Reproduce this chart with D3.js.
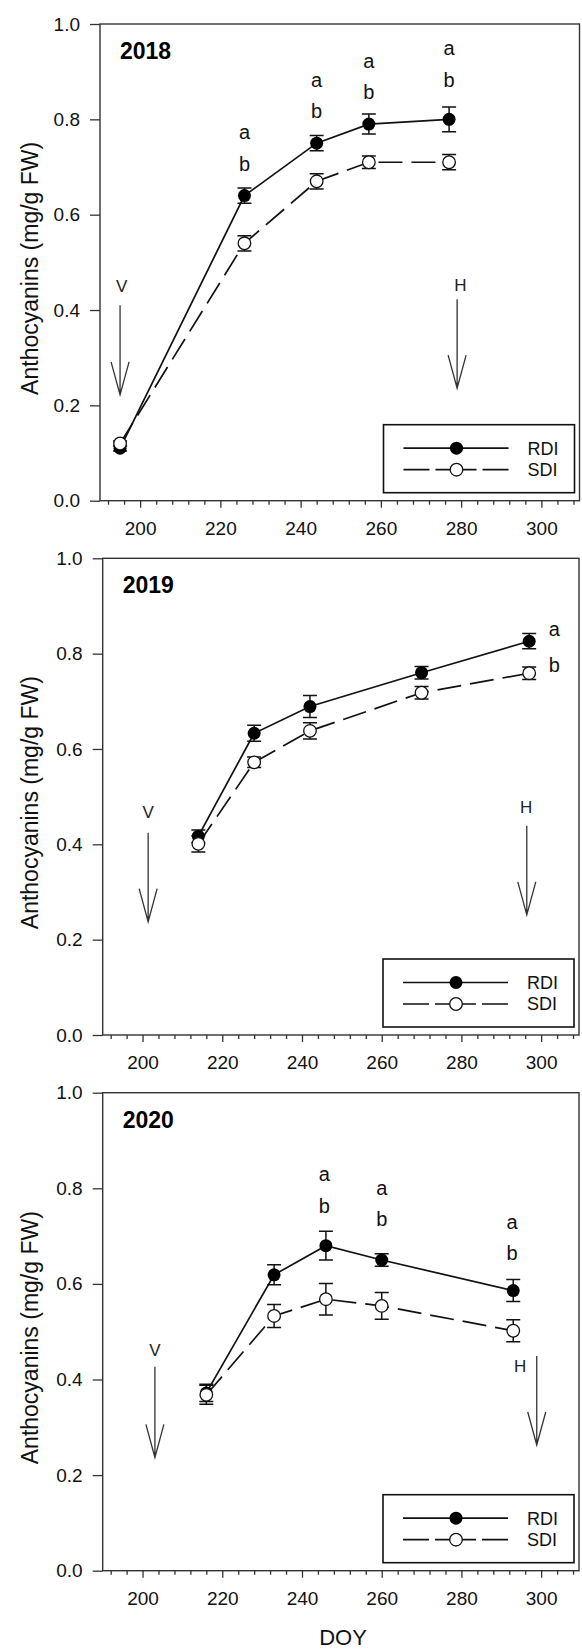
<!DOCTYPE html>
<html>
<head>
<meta charset="utf-8">
<script src="https://cdn.jsdelivr.net/npm/d3@7"></script>
<style>
    body { margin: 0; background: #fff; }
    svg { display: block; font-family: 'Liberation Sans', Arial, sans-serif; }
</style>
</head>
<body>
<div class="chart"></div>
<script>
// Data
const seriesNames = ['RDI', 'SDI'];
const xTicks = [200, 220, 240, 260, 280, 300];
const xMinorTicks = [192, 196, 204, 208, 212, 216, 224, 228, 232, 236, 244, 248, 252, 256,
    264, 268, 272, 276, 284, 288, 292, 296, 304, 308];
const yTicks = [0, 0.2, 0.4, 0.6, 0.8, 1.0];
const xLabel = 'DOY';
const yLabel = 'Anthocyanins (mg/g FW)';

// 2018
const doy2018 = [195, 226, 244, 257, 277];
const rdi2018 = [0.11, 0.64, 0.75, 0.79, 0.80];
const rdiErr2018 = [0.006, 0.016, 0.016, 0.021, 0.026];
const sdi2018 = [0.12, 0.54, 0.67, 0.71, 0.71];
const sdiErr2018 = [0.005, 0.016, 0.016, 0.013, 0.016];
const letters2018 = [
    { doy: 226, text: 'a', value: 0.758 }, { doy: 226, text: 'b', value: 0.691 },
    { doy: 244, text: 'a', value: 0.868 }, { doy: 244, text: 'b', value: 0.803 },
    { doy: 257, text: 'a', value: 0.907 }, { doy: 257, text: 'b', value: 0.842 },
    { doy: 277, text: 'a', value: 0.935 }, { doy: 277, text: 'b', value: 0.867 }
];
const arrows2018 = [
    { text: 'V', doy: 195, from: 0.41, to: 0.222, textDoy: 195.4, textValue: 0.437 },
    { text: 'H', doy: 279, from: 0.4225, to: 0.236, textDoy: 279.8, textValue: 0.439 }
];

// 2019
const doy2019 = [214, 228, 242, 270, 297];
const rdi2019 = [0.417, 0.633, 0.689, 0.760, 0.826];
const rdiErr2019 = [0.013, 0.017, 0.023, 0.013, 0.016];
const sdi2019 = [0.401, 0.572, 0.638, 0.718, 0.759];
const sdiErr2019 = [0.017, 0.011, 0.017, 0.013, 0.013];
const letters2019 = [
    { doy: 303.3, text: 'a', value: 0.836 }, { doy: 303.3, text: 'b', value: 0.761 }
];
const arrows2019 = [
    { text: 'V', doy: 201.4, from: 0.4245, to: 0.2377, textDoy: 201.4, textValue: 0.455 },
    { text: 'H', doy: 296.4, from: 0.439, to: 0.252, textDoy: 296.25, textValue: 0.466 }
];

// 2020
const doy2020 = [216, 233, 246, 260, 293];
const rdi2020 = [0.372, 0.619, 0.680, 0.650, 0.586];
const rdiErr2020 = [0.018, 0.021, 0.030, 0.013, 0.023];
const sdi2020 = [0.368, 0.533, 0.568, 0.554, 0.502];
const sdiErr2020 = [0.020, 0.024, 0.033, 0.028, 0.023];
const letters2020 = [
    { doy: 245.6, text: 'a', value: 0.815 }, { doy: 245.6, text: 'b', value: 0.748 },
    { doy: 260, text: 'a', value: 0.786 }, { doy: 260, text: 'b', value: 0.721 },
    { doy: 292.7, text: 'a', value: 0.714 }, { doy: 292.7, text: 'b', value: 0.649 }
];
const arrows2020 = [
    { text: 'V', doy: 203.1, from: 0.4268, to: 0.237, textDoy: 203.1, textValue: 0.45 },
    { text: 'H', doy: 298.9, from: 0.449, to: 0.263, textDoy: 294.75, textValue: 0.415 }
];

const panels = [
    { year: '2018', doy: doy2018, rdi: rdi2018, rdiErr: rdiErr2018, sdi: sdi2018, sdiErr: sdiErr2018, letters: letters2018, arrows: arrows2018 },
    { year: '2019', doy: doy2019, rdi: rdi2019, rdiErr: rdiErr2019, sdi: sdi2019, sdiErr: sdiErr2019, letters: letters2019, arrows: arrows2019 },
    { year: '2020', doy: doy2020, rdi: rdi2020, rdiErr: rdiErr2020, sdi: sdi2020, sdiErr: sdiErr2020, letters: letters2020, arrows: arrows2020 }
];

// Dimensions
const dimensions = {
    width: 582,
    height: 1651,
    frames: [
        { top: 24, bottom: 500.7, left: 100, right: 579.5 },
        { top: 558.3, bottom: 1035, left: 102.7, right: 579 },
        { top: 1092.7, bottom: 1570.7, left: 102.7, right: 579 }
    ]
};

const ink = '#111';
const axisInk = '#333';

// Draw SVG
const svg = d3.select('.chart')
    .append('svg')
    .attr('width', dimensions.width)
    .attr('height', dimensions.height);

svg.append('rect')
    .attr('width', dimensions.width)
    .attr('height', dimensions.height)
    .attr('fill', '#fff');

function drawPanel(panel, frame) {
    const xScale = d3.scaleLinear()
        .domain([190, 309.5])
        .range([frame.left, frame.right]);

    const yScale = d3.scaleLinear()
        .domain([0, 1])
        .range([frame.bottom, frame.top]);

    const g = svg.append('g');

    // Axes
    const xAxisGroup = g.append('g')
        .attr('transform', `translate(0, ${frame.bottom})`)
        .call(d3.axisBottom(xScale)
            .tickValues(xTicks)
            .tickSize(7)
            .tickSizeOuter(0)
            .tickPadding(13.5));

    const xMinorGroup = g.append('g')
        .attr('transform', `translate(0, ${frame.bottom})`)
        .call(d3.axisBottom(xScale)
            .tickValues(xMinorTicks)
            .tickSize(4)
            .tickSizeOuter(0)
            .tickFormat(''));

    const yAxisGroup = g.append('g')
        .attr('transform', `translate(${frame.left}, 0)`)
        .call(d3.axisLeft(yScale)
            .tickValues(yTicks)
            .tickSize(10)
            .tickSizeOuter(0)
            .tickPadding(10)
            .tickFormat(d3.format('.1f')));

    [xAxisGroup, xMinorGroup, yAxisGroup].forEach(ax => {
        ax.select('.domain').remove();
        ax.selectAll('line').attr('stroke', axisInk).attr('stroke-width', 1.3);
        ax.selectAll('text')
            .attr('font-size', 19)
            .attr('font-family', "'Liberation Sans', Arial, sans-serif")
            .attr('fill', ink);
    });

    g.append('rect')
        .attr('x', frame.left)
        .attr('y', frame.top)
        .attr('width', frame.right - frame.left)
        .attr('height', frame.bottom - frame.top)
        .attr('fill', 'none')
        .attr('stroke', axisInk)
        .attr('stroke-width', 1.4);

    // Y title
    g.append('text')
        .attr('transform', `translate(38, ${(frame.top + frame.bottom) / 2 + 6}) rotate(-90)`)
        .attr('text-anchor', 'middle')
        .attr('font-size', 23)
        .attr('fill', ink)
        .text(yLabel);

    // Year
    g.append('text')
        .attr('x', frame.left + 20)
        .attr('y', frame.top + 35)
        .attr('font-size', 23)
        .attr('font-weight', 'bold')
        .attr('fill', '#000')
        .text(panel.year);

    // V / H arrows
    const arrowGroup = g.append('g')
        .attr('stroke', '#333')
        .attr('stroke-width', 1.3)
        .attr('fill', 'none');

    arrowGroup.selectAll('path')
        .data(panel.arrows)
        .join('path')
        .attr('d', d => {
            const ax = xScale(d.doy);
            const y0 = yScale(d.from);
            const y1 = yScale(d.to);
            return `M${ax},${y0}L${ax},${y1}M${ax - 9},${y1 - 33}L${ax},${y1}L${ax + 9},${y1 - 33}`;
        });

    g.selectAll('.arrow-label')
        .data(panel.arrows)
        .join('text')
        .attr('class', 'arrow-label')
        .attr('x', d => xScale(d.textDoy))
        .attr('y', d => yScale(d.textValue))
        .attr('text-anchor', 'middle')
        .attr('font-size', 17)
        .attr('fill', '#222')
        .text(d => d.text);

    // Series
    const rdiPoints = panel.doy.map((d, i) => ({ doy: d, value: panel.rdi[i], err: panel.rdiErr[i] }));
    const sdiPoints = panel.doy.map((d, i) => ({ doy: d, value: panel.sdi[i], err: panel.sdiErr[i] }));

    const line = d3.line()
        .x(d => xScale(d.doy))
        .y(d => yScale(d.value));

    // Error bars
    const errorGroup = g.append('g')
        .attr('stroke', ink)
        .attr('stroke-width', 1.5)
        .attr('fill', 'none');

    errorGroup.selectAll('path')
        .data(rdiPoints.concat(sdiPoints))
        .join('path')
        .attr('d', d => {
            const cx = xScale(d.doy);
            const yTop = yScale(d.value + d.err);
            const yBot = yScale(d.value - d.err);
            return `M${cx},${yTop}L${cx},${yBot}M${cx - 7},${yTop}L${cx + 7},${yTop}M${cx - 7},${yBot}L${cx + 7},${yBot}`;
        });

    g.append('path')
        .datum(sdiPoints)
        .attr('d', line)
        .attr('fill', 'none')
        .attr('stroke', ink)
        .attr('stroke-width', 1.7)
        .attr('stroke-dasharray', '24,9');

    g.append('path')
        .datum(rdiPoints)
        .attr('d', line)
        .attr('fill', 'none')
        .attr('stroke', ink)
        .attr('stroke-width', 1.7);

    g.append('g')
        .selectAll('circle')
        .data(rdiPoints)
        .join('circle')
        .attr('cx', d => xScale(d.doy))
        .attr('cy', d => yScale(d.value))
        .attr('r', 6.5)
        .attr('fill', '#000');

    g.append('g')
        .selectAll('circle')
        .data(sdiPoints)
        .join('circle')
        .attr('cx', d => xScale(d.doy))
        .attr('cy', d => yScale(d.value))
        .attr('r', 6.3)
        .attr('fill', '#fff')
        .attr('stroke', ink)
        .attr('stroke-width', 1.3);

    // Significance letters
    g.selectAll('.letter')
        .data(panel.letters)
        .join('text')
        .attr('class', 'letter')
        .attr('x', d => xScale(d.doy))
        .attr('y', d => yScale(d.value))
        .attr('text-anchor', 'middle')
        .attr('font-size', 20)
        .attr('fill', ink)
        .text(d => d.text);

    // Legend
    const boxRight = frame.right - 5;
    const boxLeft = boxRight - 191;
    const boxTop = frame.bottom - 76;
    const legendGroup = g.append('g');

    legendGroup.append('rect')
        .attr('x', boxLeft)
        .attr('y', boxTop)
        .attr('width', boxRight - boxLeft)
        .attr('height', 68)
        .attr('fill', '#fff')
        .attr('stroke', ink)
        .attr('stroke-width', 1.6);

    const lineStart = boxRight - 171;
    const lineEnd = boxRight - 66;
    const markerX = boxRight - 118;

    seriesNames.forEach((name, i) => {
        const ly = boxTop + 23.5 + i * 21.5;
        if (i === 0) {
            legendGroup.append('line')
                .attr('x1', lineStart).attr('x2', lineEnd)
                .attr('y1', ly).attr('y2', ly)
                .attr('stroke', ink).attr('stroke-width', 1.7);
        } else {
            [[lineStart, markerX], [lineEnd, markerX]].forEach(([a, b]) => {
                legendGroup.append('line')
                    .attr('x1', a).attr('x2', b)
                    .attr('y1', ly).attr('y2', ly)
                    .attr('stroke', ink).attr('stroke-width', 1.7)
                    .attr('stroke-dasharray', '26,6');
            });
        }
        legendGroup.append('circle')
            .attr('cx', markerX)
            .attr('cy', ly)
            .attr('r', i === 0 ? 6.5 : 6.3)
            .attr('fill', i === 0 ? '#000' : '#fff')
            .attr('stroke', ink)
            .attr('stroke-width', i === 0 ? 0 : 1.3);
        legendGroup.append('text')
            .attr('x', boxRight - 47)
            .attr('y', ly)
            .attr('dy', '0.36em')
            .attr('font-size', 18)
            .attr('fill', ink)
            .text(name);
    });
}

panels.forEach((panel, i) => drawPanel(panel, dimensions.frames[i]));

// X title
svg.append('text')
    .attr('x', 343)
    .attr('y', 1645)
    .attr('text-anchor', 'middle')
    .attr('font-size', 22)
    .attr('fill', ink)
    .text(xLabel);
</script>
</body>
</html>
